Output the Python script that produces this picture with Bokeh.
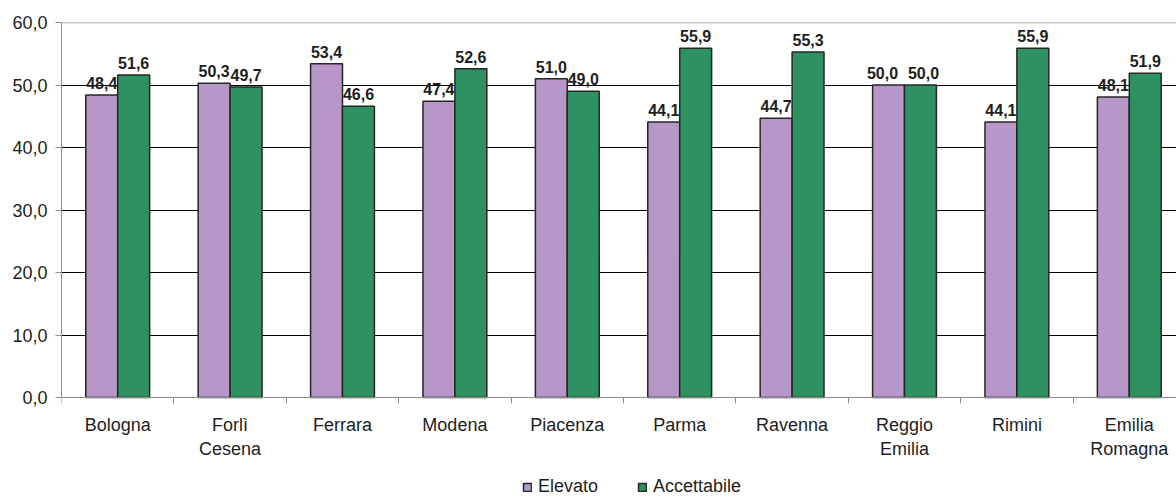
from bokeh.plotting import figure
from bokeh.models import (ColumnDataSource, Range1d, FixedTicker, Span,
                          Legend, LegendItem, LinearAxis)
from bokeh.core.properties import value
from bokeh.embed import file_html
from bokeh.resources import INLINE

# Data
categories = ["Bologna", "Forlì\nCesena", "Ferrara", "Modena", "Piacenza",
              "Parma", "Ravenna", "Reggio\nEmilia", "Rimini", "Emilia\nRomagna"]
elevato = [48.4, 50.3, 53.4, 47.4, 51.0, 44.1, 44.7, 50.0, 44.1, 48.1]
accettabile = [51.6, 49.7, 46.6, 52.6, 49.0, 55.9, 55.3, 50.0, 55.9, 51.9]
y_ticks = [0, 10, 20, 30, 40, 50, 60]

FONT = "Liberation Sans"
PURPLE = "#B697C8"
GREEN = "#2E9162"
TEXT = "#1e1e1e"
AXIS_GREY = "#8c8c8c"

n = len(categories)
centers = [i + 0.5 for i in range(n)]
bar_w = 0.284
off = 0.142

def fmt(v):
    return f"{v:.1f}".replace(".", ",")

# labels of a pair at the same height are pushed apart so they don't touch
same = [abs(a - b) < 0.3 for a, b in zip(elevato, accettabile)]

src_e = ColumnDataSource(dict(x=[c - off for c in centers], top=elevato,
                              label=[fmt(v) for v in elevato],
                              dx=[-6 if s else 0 for s in same]))
src_a = ColumnDataSource(dict(x=[c + off for c in centers], top=accettabile,
                              label=[fmt(v) for v in accettabile],
                              dx=[3 if s else 0 for s in same]))

# The frame runs to the bottom of the page; the category axis sits at y = 0
# and the space below it holds the category labels and the legend.
p = figure(width=1176, height=497, output_backend="svg", toolbar_location=None,
           x_range=Range1d(0, 9.92), y_range=Range1d(-16, 60),
           x_axis_location=None,
           min_border_left=61, min_border_right=0, min_border_top=22,
           min_border_bottom=0)
p.outline_line_color = None
p.background_fill_color = "white"

# Grid lines
p.xgrid.grid_line_color = None
p.ygrid.ticker = FixedTicker(ticks=[10, 20, 30, 40, 50])
p.ygrid.grid_line_color = "#000000"
p.ygrid.grid_line_width = 1
p.add_layout(Span(location=60, dimension="width", line_color=AXIS_GREY,
                  line_width=1.5))

# Bars
r_e = p.vbar(x="x", top="top", width=bar_w, bottom=0, source=src_e,
             fill_color=PURPLE, line_color="#262626", line_width=1.5)
r_a = p.vbar(x="x", top="top", width=bar_w, bottom=0, source=src_a,
             fill_color=GREEN, line_color="#262626", line_width=1.5)

# Value labels
for src in (src_e, src_a):
    p.text(x="x", y="top", text="label", source=src, x_offset="dx",
           text_font=value(FONT), text_font_style="bold",
           text_font_size="16px", text_color=TEXT,
           text_align="center", text_baseline="alphabetic", y_offset=-12)

# Y axis
yax = p.yaxis[0]
yax.ticker = FixedTicker(ticks=y_ticks)
yax.bounds = (0, 60)
yax.major_label_overrides = {t: fmt(t) for t in y_ticks}
yax.minor_tick_line_color = None
yax.major_tick_in = 0
yax.major_tick_out = 6
yax.major_tick_line_color = AXIS_GREY
yax.axis_line_color = AXIS_GREY
yax.major_label_text_font = FONT
yax.major_label_text_font_size = "18px"
yax.major_label_text_color = TEXT
yax.major_label_standoff = 8

# X axis at y = 0: labels at category centres, tick marks at boundaries
xax = LinearAxis(fixed_location=0)
xax.ticker = FixedTicker(ticks=centers, minor_ticks=list(range(n + 1)))
xax.major_label_overrides = {c: lab for c, lab in zip(centers, categories)}
xax.major_tick_line_color = None
xax.major_tick_in = 0
xax.major_tick_out = 0
xax.minor_tick_in = 0
xax.minor_tick_out = 6
xax.minor_tick_line_color = AXIS_GREY
xax.axis_line_color = AXIS_GREY
xax.major_label_text_font = FONT
xax.major_label_text_font_size = "18px"
xax.major_label_text_color = TEXT
xax.major_label_standoff = 11
p.add_layout(xax, "below")

# Legend under the category labels
legend = Legend(items=[LegendItem(label="Elevato", renderers=[r_e]),
                       LegendItem(label="Accettabile", renderers=[r_a])],
                orientation="horizontal", location=(461, 0),
                glyph_width=10, glyph_height=10, label_standoff=6,
                spacing=39, padding=0, margin=0, label_height=16,
                label_text_font=FONT, label_text_font_size="18px",
                label_text_color=TEXT, border_line_color=None,
                background_fill_alpha=0)
p.add_layout(legend, "center")

open("out.html", "w").write(file_html(p, INLINE))
